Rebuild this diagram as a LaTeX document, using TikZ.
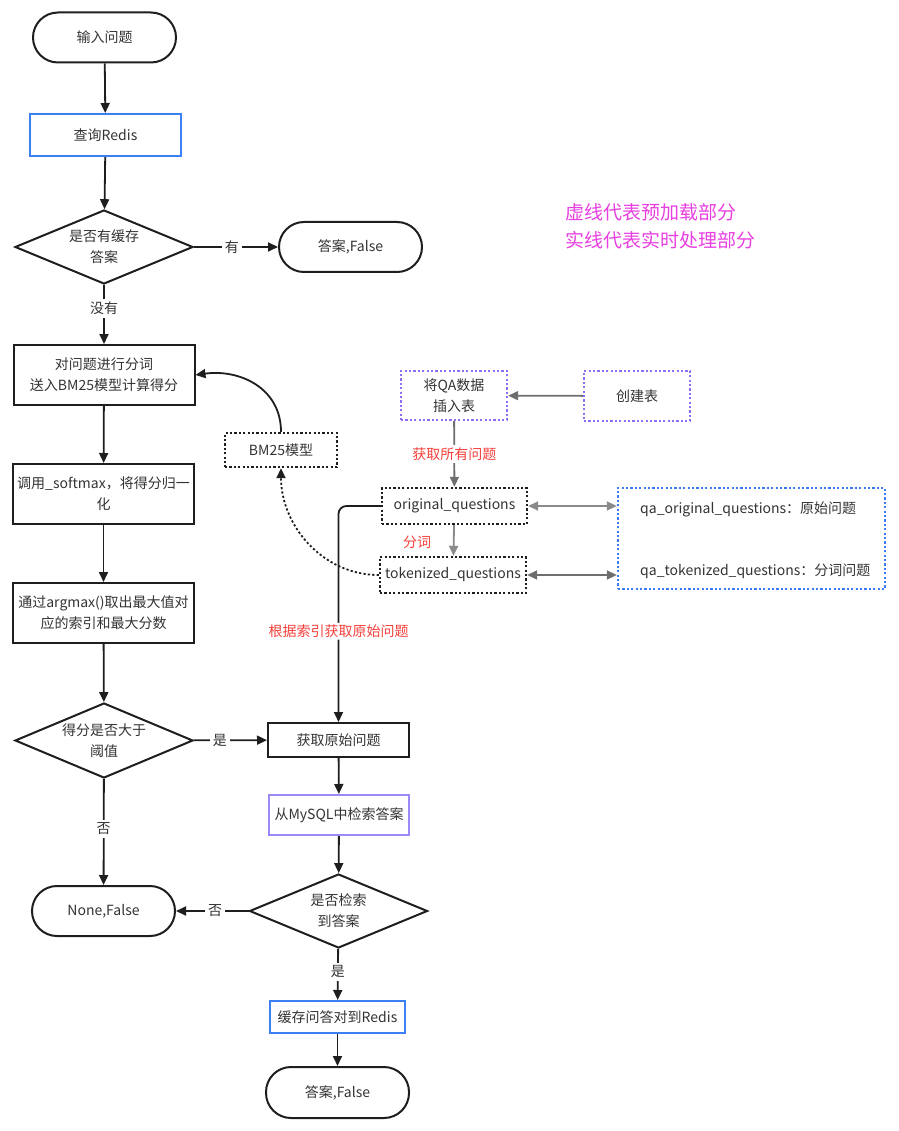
\documentclass[tikz,border=0pt]{standalone}
\usepackage{fontspec}
\setmainfont{Noto Sans CJK SC}
\usetikzlibrary{shapes.geometric,arrows.meta}
\definecolor{txt}{HTML}{333333}
\definecolor{lineC}{HTML}{1E1E1E}
\definecolor{blueC}{HTML}{3D7FF5}
\definecolor{purpC}{HTML}{9D88F7}
\definecolor{purpD}{HTML}{8D6EF5}
\definecolor{blueD}{HTML}{3B7CF2}
\definecolor{redC}{HTML}{F5403A}
\definecolor{magC}{HTML}{E83FE0}
\definecolor{grayA}{HTML}{6E6E6E}
\definecolor{grayB}{HTML}{8A8A8A}
\begin{document}
\begin{tikzpicture}[x=1pt,y=-1pt,
  font=\fontsize{14}{21}\selectfont,
  base/.style={draw=lineC, line width=2pt, align=center, inner sep=2pt, text=txt},
  term/.style={base, rectangle, rounded corners=25pt, minimum width=143pt, minimum height=50pt},
  proc/.style={base, rectangle, minimum width=181pt, minimum height=60pt},
  dec/.style={base, diamond, aspect=2.4, minimum width=178pt, minimum height=74pt, inner sep=0pt},
  dotbox/.style={base, rectangle, dash pattern=on 2.2pt off 2.2pt, line width=2.4pt},
  arr/.style={-{Triangle[length=10pt,width=9pt]}, line width=1.8pt, draw=lineC},
  garr/.style={-{Triangle[length=10pt,width=9pt]}, line width=1.8pt, draw=grayA},
  lab/.style={fill=white, inner sep=3pt, text=txt},
  rlab/.style={text=redC, inner sep=1pt}
]
\useasboundingbox (0,0) rectangle (898,1131);

% left column
\node[term] (start) at (104.5,37.5) {输入问题};
\node[base, draw=blueC, minimum width=151pt, minimum height=42pt] (redis) at (105.5,135) {查询Redis};
\node[dec] (cache) at (104,247) {是否有缓存\\答案};
\node[term] (ans1) at (350.5,247) {答案,False};
\node[proc] (fenci) at (104,375) {对问题进行分词\\送入BM25模型计算得分};
\node[proc] (softmax) at (103.5,494) {调用\_softmax，将得分归一\\化};
\node[proc] (argmax) at (103.5,613) {通过argmax()取出最大值对\\应的索引和最大分数};
\node[dec, minimum height=75pt] (thr) at (104,740.5) {得分是否大于\\阈值};
\node[term] (none) at (103.5,911) {None,False};

% middle column
\node[base, minimum width=141pt, minimum height=34pt] (orig) at (338.5,740) {获取原始问题};
\node[base, draw=purpC, minimum width=140pt, minimum height=40pt] (mysql) at (339,815) {从MySQL中检索答案};
\node[dec] (found) at (338.5,911) {是否检索\\到答案};
\node[base, draw=blueC, minimum width=135pt, minimum height=32pt] (store) at (337.5,1017) {缓存问答对到Redis};
\node[term, minimum height=51pt] (ans2) at (337.5,1092.5) {答案,False};

% preload part
\node[dotbox, minimum width=112pt, minimum height=34pt] (bm) at (281,450) {BM25模型};
\node[dotbox, draw=purpD, minimum width=106pt, minimum height=49pt] (insert) at (454,395.5) {将QA数据\\插入表};
\node[dotbox, draw=purpD, minimum width=106pt, minimum height=50pt] (create) at (637,396) {创建表};
\node[dotbox, minimum width=145pt, minimum height=36pt] (oq) at (454.5,506) {original\_questions};
\node[dotbox, minimum width=146pt, minimum height=36pt] (tq) at (453,575) {tokenized\_questions};
\node[dotbox, draw=blueD, minimum width=267pt, minimum height=101pt] (tables) at (751.5,538.5) {};
\node[anchor=west, text=txt, inner sep=0pt] (t1) at (640,509) {qa\_original\_questions：原始问题};
\node[anchor=west, text=txt, inner sep=0pt] (t2) at (640,571) {qa\_tokenized\_questions：分词问题};

% legend
\node[anchor=west, text=magC, align=left, inner sep=0pt, font=\fontsize{19}{28}\selectfont] (legend) at (565,226) {虚线代表预加载部分\\实线代表实时处理部分};

% connectors main flow
\draw[arr] (start) -- (redis);
\draw[arr] (redis) -- (cache);
\draw[arr] (cache) -- node[lab, pos=0.45] {有} (ans1);
\draw[arr] (cache) -- node[lab, pos=0.4] {没有} (fenci);
\draw[arr] (fenci) -- (softmax);
\draw[arr] (softmax) -- (argmax);
\draw[arr] (argmax) -- (thr);
\draw[arr] (thr) -- node[lab, pos=0.36] {是} (orig);
\draw[arr] (thr) -- node[lab, pos=0.47] {否} (none);
\draw[arr] (orig) -- (mysql);
\draw[arr] (mysql) -- (found);
\draw[arr] (found) -- node[lab, pos=0.46] {否} (none);
\draw[arr] (found) -- node[lab, pos=0.45] {是} (store);
\draw[arr] (store) -- (ans2);

% preload connectors
\draw[arr] (bm.north) to[out=90,in=8,looseness=1.1] (fenci.east);
\draw[arr, dash pattern=on 2.2pt off 2.2pt] (tq.west) to[out=180,in=-90,looseness=1] (bm.south);
\draw[arr, rounded corners=8pt] (oq.west) -| node[lab, pos=0.79, text=redC, inner sep=2pt] {根据索引获取原始问题} (orig.north);
\draw[garr] (create) -- (insert);
\draw[garr] (insert) -- node[fill=white, rlab, inner sep=3pt] {获取所有问题} (oq);
\draw[garr, draw=grayB] (oq) -- (tq);
\node[rlab] (fencilab) at (417,542) {分词};
\draw[{Triangle[length=10pt,width=9pt]}-{Triangle[length=10pt,width=9pt]}, line width=1.8pt, draw=grayB] (oq.east) -- (oq.east -| tables.west);
\draw[{Triangle[length=10pt,width=9pt]}-{Triangle[length=10pt,width=9pt]}, line width=1.8pt, draw=grayA] (tq.east) -- (tq.east -| tables.west);
\end{tikzpicture}
\end{document}
